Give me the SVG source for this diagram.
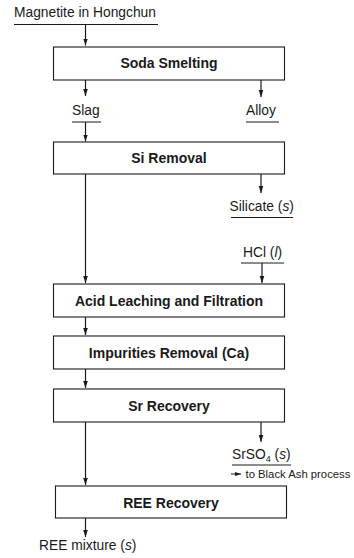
<svg xmlns="http://www.w3.org/2000/svg" width="354" height="558" viewBox="0 0 354 558">
<defs>
<marker id="ah" markerUnits="userSpaceOnUse" markerWidth="8" markerHeight="8" viewBox="0 0 8 8" refX="7" refY="4" orient="auto">
<path d="M0,1.7 L7,4 L0,6.3 Z" fill="#1a1a1a"/>
</marker>
<marker id="ahs" markerUnits="userSpaceOnUse" markerWidth="6" markerHeight="6" viewBox="0 0 6 6" refX="6" refY="3" orient="auto">
<path d="M0,1 L6,3 L0,5 Z" fill="#1a1a1a"/>
</marker>
</defs>
<style>
.box{fill:#fff;stroke:#1a1a1a;stroke-width:1.1}
.t{font-family:"Liberation Sans",Arial,sans-serif;font-size:13.8px;fill:#1a1a1a}
.b{font-family:"Liberation Sans",Arial,sans-serif;font-size:14px;font-weight:bold;fill:#1a1a1a;text-anchor:middle}
.s{font-family:"Liberation Sans",Arial,sans-serif;font-size:11.3px;fill:#1a1a1a}
.ul{stroke:#1a1a1a;stroke-width:1}
.c{stroke:#1a1a1a;stroke-width:1.2;fill:none;marker-end:url(#ah)}
</style>
<rect width="354" height="558" fill="#fff"/>
<g id="connectors">
<line class="c" x1="85.5" y1="25" x2="85.5" y2="45.5"/>
<line class="c" x1="85.5" y1="80" x2="85.5" y2="96"/>
<line class="c" x1="261" y1="80" x2="261" y2="97"/>
<line class="c" x1="85.5" y1="122" x2="85.5" y2="141.5"/>
<line class="c" x1="261" y1="174" x2="261" y2="193"/>
<line class="c" x1="85.5" y1="174" x2="85.5" y2="283"/>
<line class="c" x1="262" y1="263" x2="262" y2="283"/>
<line class="c" x1="85.5" y1="317" x2="85.5" y2="335"/>
<line class="c" x1="85.5" y1="369" x2="85.5" y2="388"/>
<line class="c" x1="85.5" y1="422" x2="85.5" y2="485"/>
<line class="c" x1="261" y1="422" x2="261" y2="442"/>
<line class="c" x1="85.5" y1="518" x2="85.5" y2="537"/>
<line x1="231" y1="474" x2="241" y2="474" stroke="#1a1a1a" stroke-width="1" marker-end="url(#ahs)"/>
</g>
<g id="magnetite">
<text class="t" x="14" y="17">Magnetite in Hongchun</text>
<line class="ul" x1="14" y1="24.5" x2="158" y2="24.5"/>
</g>
<g id="soda-smelting">
<rect class="box" x="53.5" y="47" width="231" height="33"/>
<text class="b" x="169" y="68">Soda Smelting</text>
</g>
<g id="slag">
<text class="t" x="72" y="115">Slag</text>
<line class="ul" x1="72" y1="122" x2="101" y2="122"/>
</g>
<g id="alloy">
<text class="t" x="246" y="115">Alloy</text>
<line class="ul" x1="246" y1="122" x2="279" y2="122"/>
</g>
<g id="si-removal">
<rect class="box" x="53.5" y="142" width="231" height="32"/>
<text class="b" x="169" y="163">Si Removal</text>
</g>
<g id="silicate">
<text class="t" x="229.5" y="211">Silicate (<tspan font-style="italic">s</tspan>)</text>
<line class="ul" x1="231" y1="217.5" x2="293" y2="217.5"/>
</g>
<g id="hcl">
<text class="t" x="243" y="257">HCl (<tspan font-style="italic">l</tspan>)</text>
<line class="ul" x1="241" y1="263" x2="284" y2="263"/>
</g>
<g id="acid-leaching">
<rect class="box" x="53.5" y="284" width="231" height="33"/>
<text class="b" x="169" y="306">Acid Leaching and Filtration</text>
</g>
<g id="impurities-removal">
<rect class="box" x="53.5" y="336" width="231" height="33"/>
<text class="b" x="169" y="358">Impurities Removal (Ca)</text>
</g>
<g id="sr-recovery">
<rect class="box" x="53.5" y="389" width="231" height="33"/>
<text class="b" x="169" y="411">Sr Recovery</text>
</g>
<g id="srso4">
<text class="t" x="232" y="459">SrSO<tspan font-size="9" dy="3">4</tspan><tspan dy="-3"> (</tspan><tspan font-style="italic">s</tspan>)</text>
<line class="ul" x1="232" y1="465" x2="291" y2="465"/>
<text class="s" x="245.5" y="478">to Black Ash process</text>
</g>
<g id="ree-recovery">
<rect class="box" x="55.5" y="486" width="231" height="32"/>
<text class="b" x="171" y="508">REE Recovery</text>
</g>
<g id="ree-mixture">
<text class="t" x="39" y="550">REE mixture (<tspan font-style="italic">s</tspan>)</text>
</g>
</svg>
